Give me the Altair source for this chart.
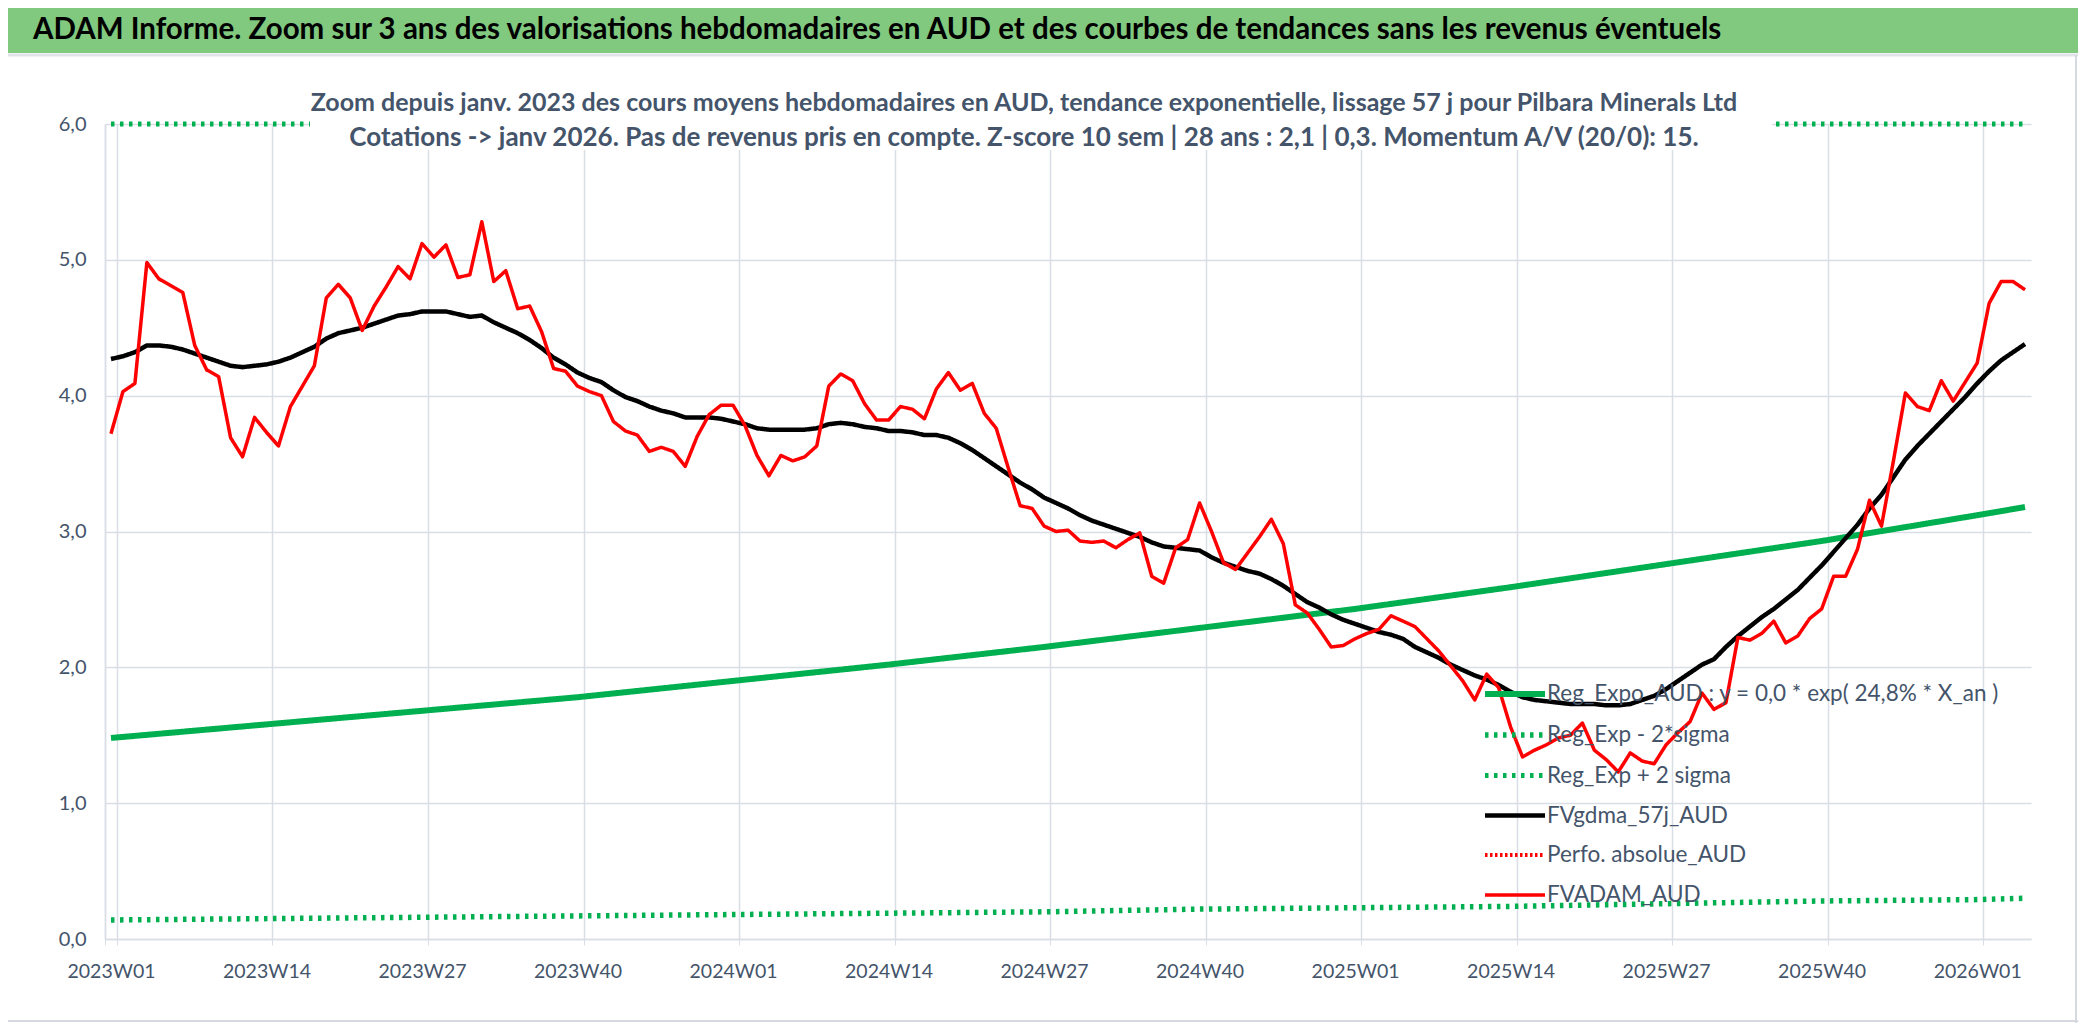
import altair as alt
import pandas as pd

FONT = "Lato, Carlito, Liberation Sans, sans-serif"

# ---------------- data ----------------
fvadam = [3.72, 4.03, 4.09, 4.98, 4.86, 4.81, 4.76, 4.37, 4.19, 4.14,
          3.69, 3.55, 3.84, 3.73, 3.63, 3.92, 4.07, 4.22, 4.72, 4.82,
          4.72, 4.48, 4.66, 4.80, 4.95, 4.86, 5.12, 5.02, 5.11, 4.87,
          4.89, 5.28, 4.84, 4.92, 4.64, 4.66, 4.47, 4.20, 4.18, 4.07,
          4.03, 4.00, 3.81, 3.74, 3.71, 3.59, 3.62, 3.59, 3.48, 3.70,
          3.86, 3.93, 3.93, 3.78, 3.56, 3.41, 3.56, 3.52, 3.55, 3.63,
          4.07, 4.16, 4.11, 3.94, 3.82, 3.82, 3.92, 3.90, 3.83, 4.05,
          4.17, 4.04, 4.09, 3.87, 3.76, 3.47, 3.19, 3.17, 3.04, 3.00,
          3.01, 2.93, 2.92, 2.93, 2.88, 2.94, 2.99, 2.67, 2.62, 2.88,
          2.94, 3.21, 3.00, 2.77, 2.72, 2.84, 2.96, 3.09, 2.91, 2.46,
          2.40, 2.28, 2.15, 2.16, 2.21, 2.25, 2.28, 2.38, 2.34, 2.30,
          2.21, 2.12, 2.01, 1.90, 1.76, 1.95, 1.85, 1.56, 1.34, 1.39,
          1.43, 1.48, 1.50, 1.59, 1.39, 1.32, 1.23, 1.37, 1.31, 1.29,
          1.43, 1.52, 1.60, 1.81, 1.69, 1.74, 2.22, 2.20, 2.25, 2.34,
          2.18, 2.23, 2.36, 2.43, 2.67, 2.67, 2.87, 3.23, 3.04, 3.52,
          4.02, 3.92, 3.89, 4.11, 3.96, 4.10, 4.24, 4.68, 4.84, 4.84,
          4.78]

fvgdma = [4.27, 4.29, 4.32, 4.37, 4.37, 4.36, 4.34, 4.31, 4.28, 4.25,
          4.22, 4.21, 4.22, 4.23, 4.25, 4.28, 4.32, 4.36, 4.42, 4.46,
          4.48, 4.50, 4.53, 4.56, 4.59, 4.60, 4.62, 4.62, 4.62, 4.60,
          4.58, 4.59, 4.54, 4.50, 4.46, 4.41, 4.35, 4.28, 4.23, 4.17,
          4.13, 4.10, 4.04, 3.99, 3.96, 3.92, 3.89, 3.87, 3.84, 3.84,
          3.84, 3.83, 3.81, 3.79, 3.76, 3.75, 3.75, 3.75, 3.75, 3.76,
          3.79, 3.80, 3.79, 3.77, 3.76, 3.74, 3.74, 3.73, 3.71, 3.71,
          3.69, 3.65, 3.60, 3.54, 3.48, 3.42, 3.36, 3.31, 3.25, 3.21,
          3.17, 3.12, 3.08, 3.05, 3.02, 2.99, 2.96, 2.92, 2.89, 2.88,
          2.87, 2.86, 2.81, 2.77, 2.74, 2.71, 2.69, 2.65, 2.60, 2.54,
          2.48, 2.44, 2.39, 2.35, 2.32, 2.29, 2.26, 2.24, 2.21, 2.15,
          2.11, 2.07, 2.02, 1.98, 1.94, 1.91, 1.87, 1.82, 1.78, 1.76,
          1.75, 1.74, 1.73, 1.73, 1.73, 1.72, 1.72, 1.73, 1.76, 1.79,
          1.84, 1.90, 1.96, 2.02, 2.06, 2.15, 2.23, 2.30, 2.37, 2.43,
          2.50, 2.57, 2.66, 2.75, 2.85, 2.95, 3.05, 3.17, 3.27, 3.40,
          3.53, 3.63, 3.72, 3.81, 3.90, 3.99, 4.09, 4.18, 4.26, 4.32,
          4.38]

reg_idx = [0, 13, 26, 39, 52, 65, 78, 91, 104, 117, 130, 143, 156, 160]
reg_expo = [1.48, 1.58, 1.68, 1.78, 1.90, 2.02, 2.15, 2.29, 2.43, 2.59, 2.76, 2.93, 3.12, 3.18]
reg_lo = [0.14, 0.15, 0.16, 0.17, 0.18, 0.19, 0.20, 0.22, 0.23, 0.24, 0.26, 0.28, 0.29, 0.30]
reg_hi = [6.0, 6.0, 6.0, 6.0, 6.0, 6.0, 6.0, 6.0, 6.0, 6.0, 6.0, 6.0, 6.0, 6.0]

tick_labels = ["2023W01", "2023W14", "2023W27", "2023W40", "2024W01", "2024W14",
               "2024W27", "2024W40", "2025W01", "2025W14", "2025W27", "2025W40",
               "2026W01"]
tick_idx = [0, 13, 26, 39, 52, 65, 78, 91, 104, 117, 130, 143, 156]
y_ticks = [0, 1, 2, 3, 4, 5, 6]
week_index = list(range(len(fvadam)))

S_REG = "Reg_Expo_AUD : y = 0,0 * exp( 24,8% *  X_an )"
S_LO = "Reg_Exp - 2*sigma"
S_HI = "Reg_Exp + 2 sigma"
S_GDMA = "FVgdma_57j_AUD"
S_PERF = "Perfo. absolue_AUD"
S_ADAM = "FVADAM_AUD"
series = [S_REG, S_LO, S_HI, S_GDMA, S_PERF, S_ADAM]
colors = ["#00B050", "#00B050", "#00B050", "#000000", "#FF0000", "#FF0000"]
dashes = [[1, 0], [3.5, 5.5], [3.5, 5.5], [1, 0], [2.5, 2.5], [1, 0]]
widths = [6, 3.5, 3.5, 3.8, 2.5, 5.8]

TITLE = "ADAM Informe. Zoom sur 3 ans des valorisations hebdomadaires en AUD et des courbes de tendances sans les revenus éventuels"
SUB1 = "Zoom depuis janv. 2023 des cours moyens hebdomadaires en AUD, tendance exponentielle, lissage 57 j pour Pilbara Minerals Ltd"
SUB2 = "Cotations -> janv 2026. Pas de revenus pris en compte. Z-score 10 sem | 28 ans : 2,1 | 0,3. Momentum A/V (20/0): 15."

# ---------------- table ----------------
rows = []
for i, v in enumerate(fvadam):
    rows.append({"i": i, "v": v, "s": S_ADAM})
for i, v in enumerate(fvgdma):
    rows.append({"i": i, "v": v, "s": S_GDMA})
for i, v in zip(reg_idx, reg_expo):
    rows.append({"i": i, "v": v, "s": S_REG})
for i, v in zip(reg_idx, reg_lo):
    rows.append({"i": i, "v": v, "s": S_LO})
for i, v in zip(reg_idx, reg_hi):
    rows.append({"i": i, "v": v, "s": S_HI})
df = pd.DataFrame(rows)

PW, PH = 1926, 815
TOTAL_W, TOTAL_H = 2070, 1015
PAD_L, PAD_T = 97, 116
SLATE = "#44546A"

label_arr = "[" + ",".join("'%s'" % t for t in tick_labels) + "]"

legend_kw = dict(
    title=None, orient="none", legendX=1397, legendY=557,
    symbolType="M-3,0H3", symbolSize=400, labelFontSize=22.5,
    labelColor=SLATE, labelFont=FONT, labelOffset=19, rowPadding=16,
    padding=0, labelLimit=700,
)

enc = dict(
    x=alt.X("i:O", scale=alt.Scale(type="band", domain=week_index, paddingInner=0, paddingOuter=0),
            sort=None,
            axis=alt.Axis(values=tick_idx, labelExpr=label_arr + "[round(datum.value / 13)]",
                          title=None, grid=True, ticks=True, tickSize=6, tickBand="extent",
                          labelAngle=0, labelFontSize=19.5, labelPadding=17, labelOverlap=False,
                          labelFlush=False, labelBound=False)),
    y=alt.Y("v:Q", scale=alt.Scale(domain=[0, 6], nice=False, zero=True),
            axis=alt.Axis(values=y_ticks, labelExpr="replace(format(datum.value, '.1f'), '.', ',')",
                          title=None, grid=True, ticks=False, labelFontSize=20, labelPadding=19)),
    color=alt.Color("s:N", scale=alt.Scale(domain=series, range=colors), legend=alt.Legend(**legend_kw)),
    strokeDash=alt.StrokeDash("s:N", scale=alt.Scale(domain=series, range=dashes), legend=alt.Legend(**legend_kw)),
    strokeWidth=alt.StrokeWidth("s:N", scale=alt.Scale(domain=series, range=widths), legend=alt.Legend(**legend_kw)),
)

base = alt.Chart(df).encode(**enc)

layers = []
for name in [S_REG, S_LO, S_HI, S_GDMA, S_ADAM]:
    layers.append(
        base.transform_filter(alt.datum.s == name).mark_line(strokeJoin="round")
    )

one = pd.DataFrame({"k": [0]})

white_box = alt.Chart(one).mark_rect(color="white").encode(
    x=alt.value(205), x2=alt.value(1667), y=alt.value(-59), y2=alt.value(26))
sub1 = alt.Chart(one).mark_text(text=SUB1, font=FONT, fontSize=25, fontWeight="bold",
                                color=SLATE, align="center", baseline="middle").encode(
    x=alt.value(919), y=alt.value(-21))
sub2 = alt.Chart(one).mark_text(text=SUB2, font=FONT, fontSize=26, fontWeight="bold",
                                color=SLATE, align="center", baseline="middle").encode(
    x=alt.value(919), y=alt.value(14))
band = alt.Chart(one).mark_rect(color="#80C97F").encode(
    x=alt.value(-PAD_L), x2=alt.value(TOTAL_W - PAD_L), y=alt.value(-PAD_T), y2=alt.value(-71))
band_line = alt.Chart(one).mark_rule(color="#E2E4EA", strokeWidth=3).encode(
    x=alt.value(-PAD_L), x2=alt.value(TOTAL_W - PAD_L), y=alt.value(-69))
title = alt.Chart(one).mark_text(text=TITLE, font=FONT, fontSize=29.5, fontWeight="bold",
                                 color="#000000", align="left", baseline="middle").encode(
    x=alt.value(-72), y=alt.value(-94))
right_border = alt.Chart(one).mark_rule(color="#D6D9E0", strokeWidth=2).encode(
    x=alt.value(TOTAL_W - PAD_L - 2), y=alt.value(-69), y2=alt.value(TOTAL_H - PAD_T))
bottom_border = alt.Chart(one).mark_rule(color="#D6D9E0", strokeWidth=2).encode(
    x=alt.value(-PAD_L), x2=alt.value(TOTAL_W - PAD_L), y=alt.value(TOTAL_H - PAD_T - 2))

chart = alt.layer(*layers, white_box, sub1, sub2, band, band_line, title,
                  right_border, bottom_border).properties(
    width=PW, height=PH,
    autosize=alt.AutoSizeParams(type="none"),
    padding={"left": PAD_L, "top": PAD_T, "right": TOTAL_W - PAD_L - PW, "bottom": TOTAL_H - PAD_T - PH},
    background="white",
).configure_view(stroke=None).configure_axis(
    gridColor="#D9DEE6", domainColor="#D9DEE6", tickColor="#D9DEE6",
    labelColor=SLATE, labelFont=FONT, gridWidth=1.5, domainWidth=1.5,
)

chart.save("out.html", embed_options={"renderer": "svg", "actions": False})
